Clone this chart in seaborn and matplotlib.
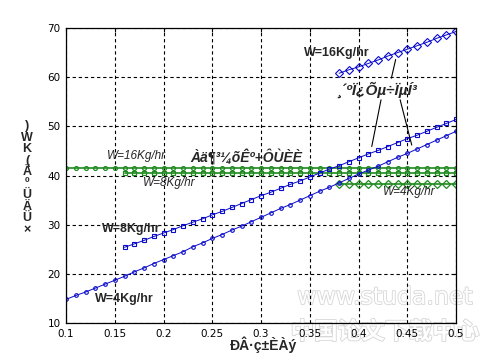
import matplotlib
matplotlib.use("Agg")
import matplotlib.pyplot as plt
import matplotlib.patheffects as pe
import seaborn as sns

# new-air ratio (x) for each curve
x_w4 = [0.10, 0.11, 0.12, 0.13, 0.14, 0.15, 0.16, 0.17, 0.18, 0.19, 0.20,
        0.21, 0.22, 0.23, 0.24, 0.25, 0.26, 0.27, 0.28, 0.29, 0.30,
        0.31, 0.32, 0.33, 0.34, 0.35, 0.36, 0.37, 0.38, 0.39, 0.40,
        0.41, 0.42, 0.43, 0.44, 0.45, 0.46, 0.47, 0.48, 0.49, 0.50]
x_w8 = [0.16, 0.17, 0.18, 0.19, 0.20,
        0.21, 0.22, 0.23, 0.24, 0.25, 0.26, 0.27, 0.28, 0.29, 0.30,
        0.31, 0.32, 0.33, 0.34, 0.35, 0.36, 0.37, 0.38, 0.39, 0.40,
        0.41, 0.42, 0.43, 0.44, 0.45, 0.46, 0.47, 0.48, 0.49, 0.50]
x_w16 = [0.38, 0.39, 0.40, 0.41, 0.42, 0.43, 0.44, 0.45, 0.46, 0.47, 0.48, 0.49, 0.50]

# composite system (blue)
blue_w4 = [14.8, 15.6, 16.3, 17.1, 17.9, 18.7, 19.5, 20.4, 21.2, 22.1, 22.9,
           23.7, 24.5, 25.5, 26.3, 27.2, 28.0, 28.9, 29.7, 30.6, 31.5,
           32.4, 33.3, 34.1, 35.0, 35.9, 36.8, 37.6, 38.5, 39.4, 40.3,
           41.1, 41.9, 42.8, 43.7, 44.5, 45.4, 46.3, 47.2, 48.1, 49.0]
blue_w8 = [25.4, 26.1, 26.8, 27.6, 28.3,
           29.0, 29.8, 30.5, 31.2, 32.0, 32.7, 33.5, 34.3, 35.1, 35.9,
           36.6, 37.4, 38.2, 38.9, 39.7, 40.5, 41.3, 42.0, 42.8, 43.6,
           44.4, 45.1, 45.9, 46.7, 47.5, 48.2, 49.0, 49.8, 50.6, 51.4]
blue_w16 = [60.8, 61.5, 62.1, 62.8, 63.5, 64.3, 65.0, 65.7, 66.4, 67.1, 67.9, 68.6, 69.3]

# cooling dehumidification + reheat (green)
green_w16 = [41.5, 41.5, 41.5, 41.5, 41.5, 41.5, 41.5, 41.5, 41.5, 41.5, 41.5,
             41.5, 41.5, 41.5, 41.5, 41.5, 41.5, 41.5, 41.5, 41.5, 41.5,
             41.5, 41.5, 41.5, 41.5, 41.5, 41.5, 41.5, 41.5, 41.5, 41.5,
             41.5, 41.5, 41.5, 41.5, 41.5, 41.5, 41.5, 41.5, 41.5, 41.5]
green_w8 = [40.5, 40.5, 40.5, 40.5, 40.5,
            40.5, 40.5, 40.5, 40.5, 40.5, 40.5, 40.5, 40.5, 40.5, 40.5,
            40.5, 40.5, 40.5, 40.5, 40.5, 40.5, 40.5, 40.5, 40.5, 40.5,
            40.5, 40.5, 40.5, 40.5, 40.5, 40.5, 40.5, 40.5, 40.5, 40.5]
green_w4 = [38.3, 38.3, 38.3, 38.3, 38.3, 38.3, 38.3, 38.3, 38.3, 38.3, 38.3, 38.3, 38.3]

xticks = [0.1, 0.15, 0.2, 0.25, 0.3, 0.35, 0.4, 0.45, 0.5]
xticklabels = ["0.1", "0.15", "0.2", "0.25", "0.3", "0.35", "0.4", "0.45", "0.5"]
yticks = [10, 20, 30, 40, 50, 60, 70]

xlabel = "ÐÂ·ç±ÈÀý"
ylabel = "×ÜÄÜºÄ(KW)"
label_composite = "¸´ºÏ¿Õµ÷ÏµÍ³"
label_reheat = "Àä¶³¼õÊº+ÔÙÈÈ"

sns.set_style("white")
plt.rcParams['font.family'] = ['Liberation Sans', 'DejaVu Sans']

BLUE = '#0a0acc'
GREEN = '#1f8a1f'

fig = plt.figure(figsize=(5.04, 3.64), dpi=100)
ax = fig.add_axes([0.131, 0.1126, 0.774, 0.8104])
ax.patch.set_visible(False)

sns.lineplot(x=x_w4, y=green_w16, ax=ax, color=GREEN, linewidth=1.2, marker='o',
             markersize=2.8, markerfacecolor='none', markeredgecolor=GREEN, markeredgewidth=0.9)
sns.lineplot(x=x_w8, y=green_w8, ax=ax, color=GREEN, linewidth=1.2, marker='s',
             markersize=2.8, markerfacecolor='none', markeredgecolor=GREEN, markeredgewidth=0.9)
sns.lineplot(x=x_w16, y=green_w4, ax=ax, color=GREEN, linewidth=1.2, marker='D',
             markersize=3.6, markerfacecolor='none', markeredgecolor=GREEN, markeredgewidth=0.9)

sns.lineplot(x=x_w4, y=blue_w4, ax=ax, color=BLUE, linewidth=0.7, marker='o',
             markersize=2.6, markerfacecolor='none', markeredgecolor=BLUE, markeredgewidth=0.8)
sns.lineplot(x=x_w8, y=blue_w8, ax=ax, color=BLUE, linewidth=0.7, marker='s',
             markersize=2.8, markerfacecolor='none', markeredgecolor=BLUE, markeredgewidth=0.8)
sns.lineplot(x=x_w16, y=blue_w16, ax=ax, color=BLUE, linewidth=0.7, marker='D',
             markersize=3.6, markerfacecolor='none', markeredgecolor=BLUE, markeredgewidth=0.8)

ax.set_xlim(0.1, 0.5)
ax.set_ylim(10, 70)
ax.set_xticks(xticks)
ax.set_xticklabels(xticklabels)
ax.set_yticks(yticks)
ax.tick_params(direction='in', length=3, width=0.8, labelsize=7.5, colors='black',
               top=True, right=True, pad=4)
for lab in ax.get_xticklabels() + ax.get_yticklabels():
    lab.set_family('DejaVu Sans')
ax.grid(True, color='black', linestyle=(0, (3, 2.5)), linewidth=0.8)
for sp in ax.spines.values():
    sp.set_color('black')
    sp.set_linewidth(0.9)
ax.set_xlabel("")
ax.set_ylabel("")

# annotations
ax.text(0.3444, 64.85, "W=16Kg/hr", fontsize=9, fontweight='bold', va='center', ha='left')
ax.text(0.377, 57.4, label_composite, fontsize=11, fontweight='bold', style='italic',
        va='center', ha='left')
ax.plot([0.4336, 0.438], [59.8, 63.6], color='black', linewidth=0.8)
ax.plot([0.423, 0.4135], [55.4, 45.9], color='black', linewidth=0.8)
ax.plot([0.4426, 0.4545], [55.4, 46.2], color='black', linewidth=0.8)

ax.text(0.227, 43.9, label_reheat, fontsize=10, fontweight='bold', style='italic',
        va='center', ha='left')
ax.text(0.1417, 44.0, "W=16Kg/hr", fontsize=8.5, style='italic', va='center', ha='left')
ax.text(0.179, 38.4, "W=8Kg/hr", fontsize=8.5, style='italic', va='center', ha='left')
ax.text(0.4255, 36.7, "W=4Kg/hr", fontsize=8.5, style='italic', va='center', ha='left')

ax.text(0.137, 29.1, "W=8Kg/hr", fontsize=9, fontweight='bold', va='center', ha='left')
ax.text(0.130, 14.9, "W=4Kg/hr", fontsize=9, fontweight='bold', va='center', ha='left')

fig.text(263 / 504, 1 - 345 / 364, xlabel, fontsize=10, fontweight='bold',
         ha='center', va='center')
fig.text(27 / 504, 1 - 178 / 364, "\n".join(ylabel[::-1]), fontsize=9,
         fontweight='bold', ha='center', va='center', linespacing=0.95)

# site watermark, kept behind the axes content
wm = [pe.withStroke(linewidth=1.2, foreground='#d6d6d6')]
fig.text(385 / 504, 1 - 297 / 364, "www.studa.net", fontsize=17, color='white',
         ha='center', va='center', path_effects=wm, zorder=-5,
         family=['DejaVu Sans'])
fig.text(385 / 504, 1 - 332 / 364, "中国论文下载中心", fontsize=17, color='white',
         ha='center', va='center', path_effects=wm, zorder=-5,
         family=['Noto Sans CJK SC', 'DejaVu Sans'], fontweight='bold')

fig.savefig("out.png", dpi=100, facecolor='white')
